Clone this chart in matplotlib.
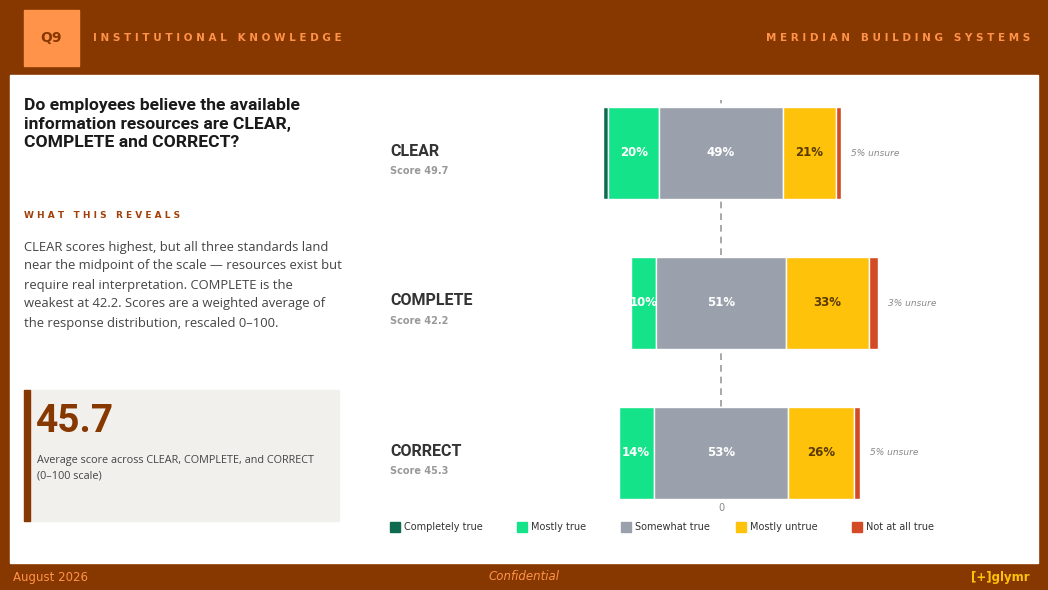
import matplotlib
matplotlib.use("Agg")
import matplotlib.pyplot as plt
from matplotlib.patches import Rectangle
import numpy as np

categories = ["CLEAR", "COMPLETE", "CORRECT"]
scores = [49.7, 42.2, 45.3]
completely_true = [2, 0, 0]
mostly_true = [20, 10, 14]
somewhat_true = [49, 51, 53]
mostly_untrue = [21, 33, 26]
not_at_all = [2, 3.5, 2.5]
unsure = [5, 3, 5]
series_names = ["Completely true", "Mostly true", "Somewhat true", "Mostly untrue", "Not at all true"]
colors = ["#0f6b50", "#14e389", "#9aa1ac", "#ffc20a", "#d24a26"]

W, H = 1048, 590
fig = plt.figure(figsize=(W/100, H/100), dpi=100)
BROWN = "#873700"
def px(x, y):
    return x / W, 1 - y / H
def rect(x0, y0, x1, y1, c, **kw):
    fig.patches.append(Rectangle((x0/W, 1-y1/H), (x1-x0)/W, (y1-y0)/H, transform=fig.transFigure, color=c, zorder=0, **kw))

rect(0, 0, W, H, BROWN)
rect(10, 75, 1038, 563, "white")
rect(24, 10, 79, 66, "#ff934a")
fig.text(*px(51, 38), "Q9", ha="center", va="center", fontsize=10, fontweight="bold", color=BROWN)
fig.text(*px(93, 38), "I N S T I T U T I O N A L   K N O W L E D G E", ha="left", va="center", fontsize=7.5, fontweight="bold", color="#ff934a")
fig.text(*px(1030, 38), "M E R I D I A N   B U I L D I N G   S Y S T E M S", ha="right", va="center", fontsize=7.5, fontweight="bold", color="#ff934a")
fig.text(*px(13, 577), "August 2026", ha="left", va="center", fontsize=8.5, color="#ff934a")
fig.text(*px(524, 577), "Confidential", ha="center", va="center", fontsize=8.5, color="#ff934a", style="italic")
fig.text(*px(1030, 577), "[+]glymr", ha="right", va="center", fontsize=8.5, color="#ffc20a", fontweight="bold")

fig.text(*px(24, 124), "Do employees believe the available\ninformation resources are CLEAR,\nCOMPLETE and CORRECT?",
         ha="left", va="center", fontsize=12.6, fontweight="bold", color="#1a1a1a", linespacing=1.3, family="Roboto")
fig.text(*px(24, 216), "W H A T   T H I S   R E V E A L S", ha="left", va="center", fontsize=6.5, fontweight="bold", color="#a0400a")
fig.text(*px(24, 285), "CLEAR scores highest, but all three standards land\nnear the midpoint of the scale — resources exist but\nrequire real interpretation. COMPLETE is the\nweakest at 42.2. Scores are a weighted average of\nthe response distribution, rescaled 0–100.",
         ha="left", va="center", fontsize=9.4, color="#444444", linespacing=1.6, family="Open Sans")
rect(24, 390, 339, 521, "#f1f0ed")
rect(24, 390, 30, 521, BROWN)
fig.text(*px(36, 422), "45.7", ha="left", va="center", fontsize=28, fontweight="bold", color=BROWN, family="Roboto")
fig.text(*px(37, 468), "Average score across CLEAR, COMPLETE, and CORRECT\n(0–100 scale)", ha="left", va="center", fontsize=7.8, color="#444444", linespacing=1.5, family="Open Sans")

ax_l, ax_r, ax_t, ax_b = 590, 940, 100, 500
ax = fig.add_axes([ax_l/W, 1-ax_b/H, (ax_r-ax_l)/W, (ax_b-ax_t)/H], zorder=5)
ax.patch.set_alpha(0)
ppp = 2.53
ax.set_xlim(-(721-ax_l)/ppp, (ax_r-721)/ppp)
ax.set_ylim(2 + 47/150, -53/150)
ax.axis("off")
ax.axvline(0, color="#999999", ls=(0, (4, 3)), lw=1.2, zorder=0)
h = 0.613
for i in range(3):
    vals = [completely_true[i], mostly_true[i], somewhat_true[i], mostly_untrue[i], not_at_all[i]]
    left = -(somewhat_true[i]/2 + mostly_true[i] + completely_true[i])
    for j, v in enumerate(vals):
        if v > 0:
            ax.barh(i, v, left=left, height=h, color=colors[j], edgecolor="white", lw=1, zorder=2)
            if j in (1, 2, 3):
                tc = "#5a3a00" if j == 3 else "white"
                ax.text(left + v/2, i, f"{v}%", ha="center", va="center", fontsize=8.5, fontweight="semibold", color=tc, zorder=3)
        left += v
    ax.text(left + 4, i, f"{unsure[i]}% unsure", ha="left", va="center", fontsize=6.5, style="italic", color="#888888")
    y = 153 + 150*i
    fig.text(*px(390, y - 2), categories[i], ha="left", va="center", fontsize=11.5, fontweight="bold", color="#333333", family="Roboto")
    fig.text(*px(390, y + 18), f"Score {scores[i]}", ha="left", va="center", fontsize=7, fontweight="bold", color="#999999")
fig.text(*px(721, 508), "0", ha="center", va="center", fontsize=7, color="#888888")

lx = [390, 517, 621, 736, 852]
for x, n, c in zip(lx, series_names, colors):
    rect(x, 522, x+10, 532, c)
    fig.text(*px(x+14, 527), n, ha="left", va="center", fontsize=7, color="#333333")

fig.savefig("out.png", dpi=100)
